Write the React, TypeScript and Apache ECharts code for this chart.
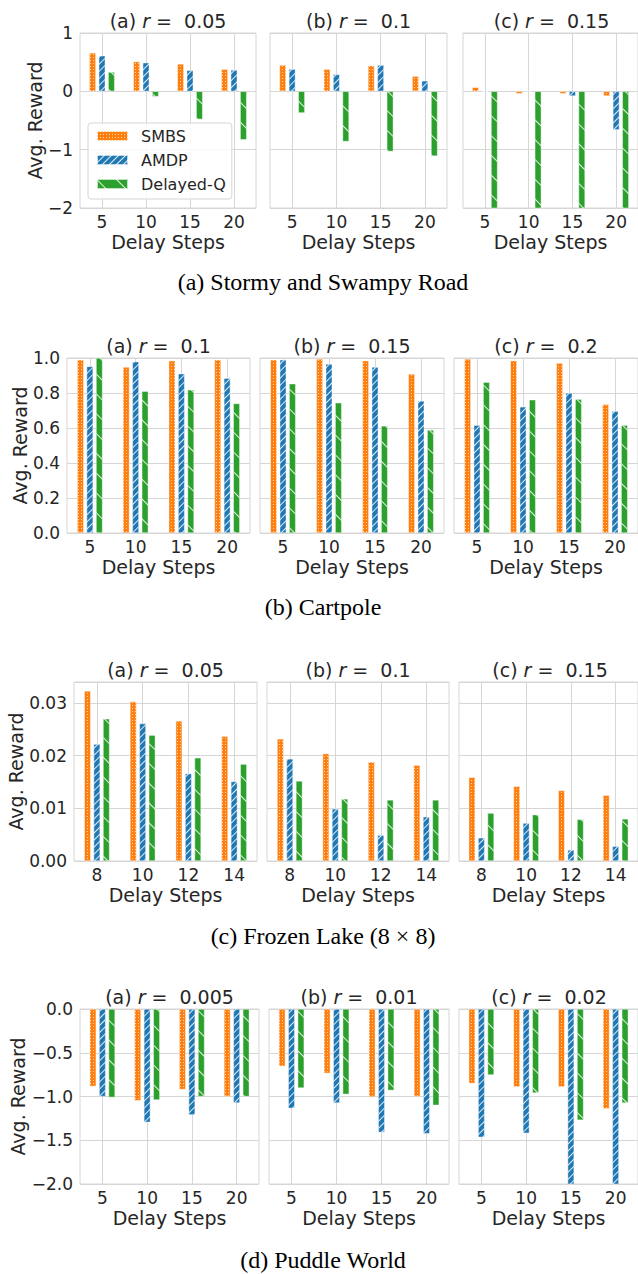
import React, { useEffect, useRef } from 'react';
import * as echarts from 'echarts';

// ---------- DATA ----------
const SERIES_NAMES = ['SMBS', 'AMDP', 'Delayed-Q'];

const stormyDelays = ['5', '10', '15', '20'];
const cartpoleDelays = ['5', '10', '15', '20'];
const frozenDelays = ['8', '10', '12', '14'];
const puddleDelays = ['5', '10', '15', '20'];

const stormyRates = ['0.05', '0.1', '0.15'];
const cartpoleRates = ['0.1', '0.15', '0.2'];
const frozenRates = ['0.05', '0.1', '0.15'];
const puddleRates = ['0.005', '0.01', '0.02'];

// Stormy and Swampy Road
const stormyA_SMBS = [0.66, 0.51, 0.47, 0.38];
const stormyA_AMDP = [0.61, 0.49, 0.36, 0.365];
const stormyA_DQ = [0.33, -0.09, -0.48, -0.83];
const stormyB_SMBS = [0.45, 0.38, 0.44, 0.26];
const stormyB_AMDP = [0.38, 0.29, 0.45, 0.18];
const stormyB_DQ = [-0.37, -0.86, -1.03, -1.11];
const stormyC_SMBS = [0.07, -0.04, -0.04, -0.08];
const stormyC_AMDP = [0.0, -0.01, -0.08, -0.66];
const stormyC_DQ = [-2.5, -2.5, -2.5, -2.5];

// Cartpole
const cartA_SMBS = [0.99, 0.948, 0.985, 0.99];
const cartA_AMDP = [0.952, 0.979, 0.91, 0.885];
const cartA_DQ = [1.0, 0.81, 0.818, 0.74];
const cartB_SMBS = [0.99, 0.995, 0.985, 0.908];
const cartB_AMDP = [0.99, 0.966, 0.948, 0.755];
const cartB_DQ = [0.853, 0.744, 0.612, 0.589];
const cartC_SMBS = [0.994, 0.985, 0.971, 0.736];
const cartC_AMDP = [0.616, 0.721, 0.8, 0.696];
const cartC_DQ = [0.862, 0.761, 0.765, 0.616];

// Frozen Lake (8x8)
const frozenA_SMBS = [0.0323, 0.0303, 0.0266, 0.0237];
const frozenA_AMDP = [0.0222, 0.0261, 0.0166, 0.0151];
const frozenA_DQ = [0.027, 0.0239, 0.0196, 0.0184];
const frozenB_SMBS = [0.0232, 0.0204, 0.0188, 0.0182];
const frozenB_AMDP = [0.0194, 0.0099, 0.0049, 0.0084];
const frozenB_DQ = [0.0152, 0.0118, 0.0116, 0.0116];
const frozenC_SMBS = [0.0159, 0.0142, 0.0134, 0.0125];
const frozenC_AMDP = [0.0044, 0.0072, 0.0021, 0.0028];
const frozenC_DQ = [0.0091, 0.0088, 0.0079, 0.008];

// Puddle World
const puddleA_SMBS = [-0.884, -1.048, -0.92, -1.0];
const puddleA_AMDP = [-1.0, -1.295, -1.21, -1.074];
const puddleA_DQ = [-1.01, -1.04, -1.0, -1.0];
const puddleB_SMBS = [-0.655, -0.735, -1.006, -1.0];
const puddleB_AMDP = [-1.135, -1.074, -1.41, -1.425];
const puddleB_DQ = [-0.903, -0.975, -0.93, -1.1];
const puddleC_SMBS = [-0.85, -0.89, -0.89, -1.14];
const puddleC_AMDP = [-1.467, -1.42, -2.3, -2.3];
const puddleC_DQ = [-0.754, -0.96, -1.27, -1.074];

const captions = [
  '(a) Stormy and Swampy Road',
  '(b) Cartpole',
  '(c) Frozen Lake (8 × 8)',
  '(d) Puddle World',
];

// ---------- STYLE / LAYOUT ----------
const COLORS = ['#ff7f0e', '#1f77b4', '#2ca02c'];
const FONT = 'DejaVu Sans';
const TXT = '#262626';
const GRIDC = '#d6d6d6';

const DECALS: any[] = [
  { symbol: 'rect', symbolSize: 1, dashArrayX: [1, 2], dashArrayY: [1, 2], rotation: 0, color: 'rgba(255,255,255,0.65)' },
  { symbol: 'rect', symbolSize: 1, dashArrayX: [1, 0], dashArrayY: [1, 3.5], rotation: -Math.PI / 4, color: 'rgba(255,255,255,0.85)' },
  { symbol: 'rect', symbolSize: 1, dashArrayX: [1, 0], dashArrayY: [1, 13], rotation: Math.PI / 4, color: 'rgba(255,255,255,0.85)' },
];

const minusFmt = (v: number, d: number) => {
  const s = Math.abs(v).toFixed(d);
  return v < -1e-9 ? '\u2212' + s : s;
};

type Row = {
  cats: string[];
  rates: string[];
  panels: number[][][];
  top: number;
  height: number;
  lefts: number[];
  widths: number[];
  yMin: number;
  yMax: number;
  yInt: number;
  yDec: number;
  yNameGap: number;
  captionY: number;
};

const rows: Row[] = [
  {
    cats: stormyDelays, rates: stormyRates,
    panels: [
      [stormyA_SMBS, stormyA_AMDP, stormyA_DQ],
      [stormyB_SMBS, stormyB_AMDP, stormyB_DQ],
      [stormyC_SMBS, stormyC_AMDP, stormyC_DQ],
    ],
    top: 33, height: 175, lefts: [80, 270, 463], widths: [176, 177, 177],
    yMin: -2, yMax: 1, yInt: 1, yDec: 0, yNameGap: 36, captionY: 282,
  },
  {
    cats: cartpoleDelays, rates: cartpoleRates,
    panels: [
      [cartA_SMBS, cartA_AMDP, cartA_DQ],
      [cartB_SMBS, cartB_AMDP, cartB_DQ],
      [cartC_SMBS, cartC_AMDP, cartC_DQ],
    ],
    top: 358, height: 175, lefts: [67, 260, 454], widths: [183, 184, 184],
    yMin: 0, yMax: 1, yInt: 0.2, yDec: 1, yNameGap: 38, captionY: 607,
  },
  {
    cats: frozenDelays, rates: frozenRates,
    panels: [
      [frozenA_SMBS, frozenA_AMDP, frozenA_DQ],
      [frozenB_SMBS, frozenB_AMDP, frozenB_DQ],
      [frozenC_SMBS, frozenC_AMDP, frozenC_DQ],
    ],
    top: 682, height: 179, lefts: [74, 267, 459], widths: [183, 182, 182],
    yMin: 0, yMax: 0.034, yInt: 0.01, yDec: 2, yNameGap: 48, captionY: 936,
  },
  {
    cats: puddleDelays, rates: puddleRates,
    panels: [
      [puddleA_SMBS, puddleA_AMDP, puddleA_DQ],
      [puddleB_SMBS, puddleB_AMDP, puddleB_DQ],
      [puddleC_SMBS, puddleC_AMDP, puddleC_DQ],
    ],
    top: 1009, height: 175, lefts: [80, 269, 459], widths: [179, 180, 180],
    yMin: -2, yMax: 0, yInt: 0.5, yDec: 1, yNameGap: 50, captionY: 1260,
  },
];

const LETTERS = ['(a)', '(b)', '(c)'];

function buildOption() {
  const grid: any[] = [];
  const xAxis: any[] = [];
  const yAxis: any[] = [];
  const series: any[] = [];
  const graphic: any[] = [];
  let g = 0;
  rows.forEach((row) => {
    row.panels.forEach((panel, pi) => {
      grid.push({
        left: row.lefts[pi], top: row.top, width: row.widths[pi], height: row.height,
        show: true, borderColor: GRIDC, borderWidth: 1, backgroundColor: 'transparent',
      });
      xAxis.push({
        type: 'category', gridIndex: g, data: row.cats, boundaryGap: true,
        axisLine: { show: false }, axisTick: { show: false },
        axisLabel: { fontSize: 17, color: TXT, fontFamily: FONT, margin: 5 },
        splitLine: { show: true, alignWithLabel: true, lineStyle: { color: GRIDC, width: 1 } },
        name: 'Delay Steps', nameLocation: 'middle', nameGap: 24,
        nameTextStyle: { fontSize: 19, color: TXT, fontFamily: FONT },
      });
      const first = pi === 0;
      yAxis.push({
        type: 'value', gridIndex: g, min: row.yMin, max: row.yMax, interval: row.yInt,
        axisLine: { show: false }, axisTick: { show: false },
        axisLabel: {
          show: first, fontSize: 17, color: TXT, fontFamily: FONT, margin: 7,
          showMaxLabel: row.yMax === 0.034 ? false : true,
          formatter: (v: number) => minusFmt(v, row.yDec),
        },
        splitLine: { show: true, lineStyle: { color: GRIDC, width: 1 } },
        name: first ? 'Avg. Reward' : '', nameLocation: 'middle', nameGap: row.yNameGap,
        nameTextStyle: { fontSize: 19, color: TXT, fontFamily: FONT },
      });
      panel.forEach((vals, si) => {
        series.push({
          type: 'bar', name: SERIES_NAMES[si], xAxisIndex: g, yAxisIndex: g,
          data: vals, barWidth: 6.5, barGap: '45%', clip: true,
          itemStyle: {
            color: COLORS[si], decal: DECALS[si],
            borderColor: 'rgba(255,255,255,0.45)', borderWidth: 0.5,
          },
        });
      });
      graphic.push({
        type: 'text',
        x: row.lefts[pi] + row.widths[pi] / 2,
        y: row.top - 12,
        style: {
          text: LETTERS[pi] + ' {i|r} =  ' + row.rates[pi],
          align: 'center', verticalAlign: 'middle',
          fontSize: 19, fontFamily: FONT, fill: TXT,
          rich: { i: { fontStyle: 'italic', fontSize: 19, fontFamily: FONT, fill: TXT } },
        },
      });
      g++;
    });
  });
  rows.forEach((row, ri) => {
    graphic.push({
      type: 'text', x: 323, y: row.captionY,
      style: {
        text: captions[ri], align: 'center', verticalAlign: 'middle',
        fontSize: 24, fontFamily: 'Liberation Serif', fill: '#000',
      },
    });
  });
  return {
    animation: false,
    backgroundColor: '#ffffff',
    grid, xAxis, yAxis, series, graphic,
    legend: {
      data: SERIES_NAMES,
      orient: 'vertical', left: 88, top: 123,
      backgroundColor: 'rgba(255,255,255,0.85)', borderColor: GRIDC, borderWidth: 1, borderRadius: 3,
      padding: [5, 6, 7, 8], itemWidth: 31, itemHeight: 10, itemGap: 8,
      icon: 'rect',
      textStyle: { fontSize: 16, fontFamily: FONT, color: TXT, lineHeight: 16, padding: [0, 0, 0, 8] },
    },
  };
}

export default function App() {
  const ref = useRef<HTMLDivElement>(null);
  useEffect(() => {
    if (!ref.current) return;
    const chart = echarts.init(ref.current, null, { renderer: 'svg' });
    chart.setOption(buildOption() as any);
    return () => chart.dispose();
  }, []);
  return (
    <div
      ref={ref}
      style={{ position: 'absolute', left: 0, top: 0, width: 638, height: 1274, background: '#fff' }}
    />
  );
}
